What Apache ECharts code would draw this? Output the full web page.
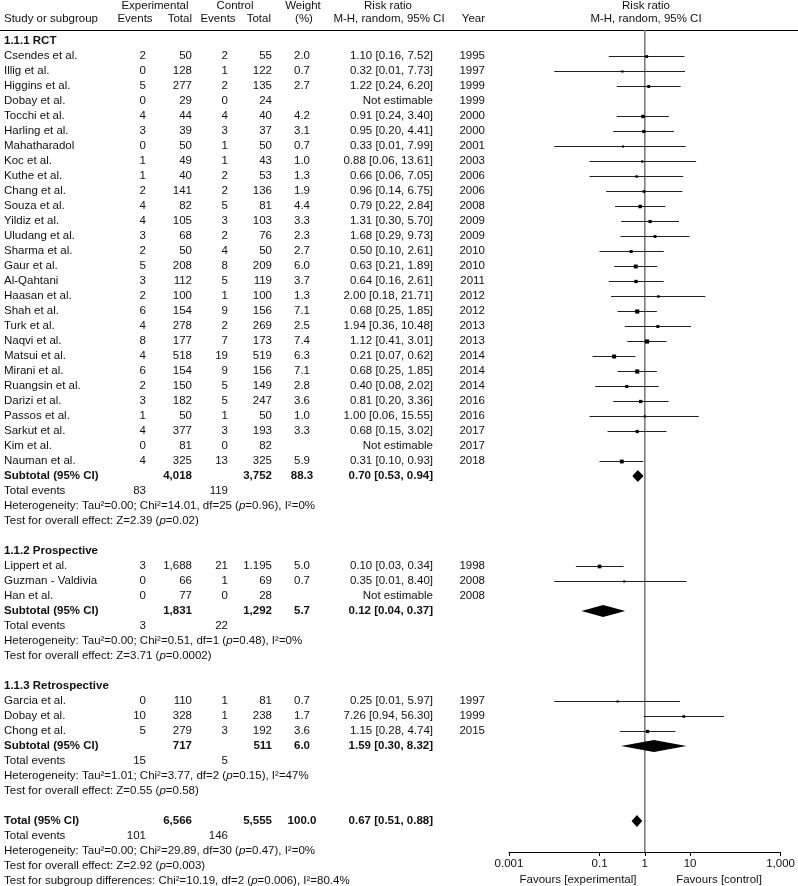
<!DOCTYPE html>
<html><head><meta charset="utf-8">
<script src="https://cdn.jsdelivr.net/npm/echarts@6/dist/echarts.min.js"></script>
<style>html,body{margin:0;padding:0;background:#fff}#c{width:798px;height:886px}</style>
</head><body><div id="c"></div>
<script>
// [study, expEvents, expTotal, ctlEvents, ctlTotal, weight, rr, low, high, year]
const rctStudies = [
  ['Csendes et al.', 2, '50', 2, '55', 2.0, 1.10, 0.16, 7.52, 1995],
  ['Illig et al.', 0, '128', 1, '122', 0.7, 0.32, 0.01, 7.73, 1997],
  ['Higgins et al.', 5, '277', 2, '135', 2.7, 1.22, 0.24, 6.20, 1999],
  ['Dobay et al.', 0, '29', 0, '24', null, null, null, null, 1999],
  ['Tocchi et al.', 4, '44', 4, '40', 4.2, 0.91, 0.24, 3.40, 2000],
  ['Harling et al.', 3, '39', 3, '37', 3.1, 0.95, 0.20, 4.41, 2000],
  ['Mahatharadol', 0, '50', 1, '50', 0.7, 0.33, 0.01, 7.99, 2001],
  ['Koc et al.', 1, '49', 1, '43', 1.0, 0.88, 0.06, 13.61, 2003],
  ['Kuthe et al.', 1, '40', 2, '53', 1.3, 0.66, 0.06, 7.05, 2006],
  ['Chang et al.', 2, '141', 2, '136', 1.9, 0.96, 0.14, 6.75, 2006],
  ['Souza et al.', 4, '82', 5, '81', 4.4, 0.79, 0.22, 2.84, 2008],
  ['Yildiz et al.', 4, '105', 3, '103', 3.3, 1.31, 0.30, 5.70, 2009],
  ['Uludang et al.', 3, '68', 2, '76', 2.3, 1.68, 0.29, 9.73, 2009],
  ['Sharma et al.', 2, '50', 4, '50', 2.7, 0.50, 0.10, 2.61, 2010],
  ['Gaur et al.', 5, '208', 8, '209', 6.0, 0.63, 0.21, 1.89, 2010],
  ['Al-Qahtani', 3, '112', 5, '119', 3.7, 0.64, 0.16, 2.61, 2011],
  ['Haasan et al.', 2, '100', 1, '100', 1.3, 2.00, 0.18, 21.71, 2012],
  ['Shah et al.', 6, '154', 9, '156', 7.1, 0.68, 0.25, 1.85, 2012],
  ['Turk et al.', 4, '278', 2, '269', 2.5, 1.94, 0.36, 10.48, 2013],
  ['Naqvi et al.', 8, '177', 7, '173', 7.4, 1.12, 0.41, 3.01, 2013],
  ['Matsui et al.', 4, '518', 19, '519', 6.3, 0.21, 0.07, 0.62, 2014],
  ['Mirani et al.', 6, '154', 9, '156', 7.1, 0.68, 0.25, 1.85, 2014],
  ['Ruangsin et al.', 2, '150', 5, '149', 2.8, 0.40, 0.08, 2.02, 2014],
  ['Darizi et al.', 3, '182', 5, '247', 3.6, 0.81, 0.20, 3.36, 2016],
  ['Passos et al.', 1, '50', 1, '50', 1.0, 1.00, 0.06, 15.55, 2016],
  ['Sarkut et al.', 4, '377', 3, '193', 3.3, 0.68, 0.15, 3.02, 2017],
  ['Kim et al.', 0, '81', 0, '82', null, null, null, null, 2017],
  ['Nauman et al.', 4, '325', 13, '325', 5.9, 0.31, 0.10, 0.93, 2018]
];
const prospStudies = [
  ['Lippert et al.', 3, '1,688', 21, '1.195', 5.0, 0.10, 0.03, 0.34, 1998],
  ['Guzman - Valdivia', 0, '66', 1, '69', 0.7, 0.35, 0.01, 8.40, 2008],
  ['Han et al.', 0, '77', 0, '28', null, null, null, null, 2008]
];
const retroStudies = [
  ['Garcia et al.', 0, '110', 1, '81', 0.7, 0.25, 0.01, 5.97, 1997],
  ['Dobay et al.', 10, '328', 1, '238', 1.7, 7.26, 0.94, 56.30, 1999],
  ['Chong et al.', 5, '279', 3, '192', 3.6, 1.15, 0.28, 4.74, 2015]
];
const groupNames = ['1.1.1 RCT', '1.1.2 Prospective', '1.1.3 Retrospective'];
const groupStudies = [rctStudies, prospStudies, retroStudies];
const subtotalTotals = [['4,018', '3,752'], ['1,831', '1,292'], ['717', '511']];
const subtotalWeights = [88.3, 5.7, 6.0];
const subtotalRR = [[0.70, 0.53, 0.94], [0.12, 0.04, 0.37], [1.59, 0.30, 8.32]];
const subtotalEvents = [[83, 119], [3, 22], [15, 5]];
// [tau2, chi2, df, p, I2]
const subtotalHet = [['0.00', '14.01', '25', '0.96', '0%'], ['0.00', '0.51', '1', '0.48', '0%'], ['1.01', '3.77', '2', '0.15', '47%']];
// [Z, p]
const subtotalTest = [['2.39', '0.02'], ['3.71', '0.0002'], ['0.55', '0.58']];
const totalTotals = ['6,566', '5,555'];
const totalWeight = 100.0;
const totalRR = [0.67, 0.51, 0.88];
const totalEvents = [101, 146];
const totalHet = ['0.00', '29.89', '30', '0.47', '0%'];
const totalTest = ['2.92', '0.003'];
const subgroupDiff = ['10.19', '2', '0.006', '80.4%'];
const tickValues = [0.001, 0.1, 1, 10, 1000];
const tickLabels = ['0.001', '0.1', '1', '10', '1,000'];

const FONT = '"Liberation Sans", Arial, sans-serif';
const FS = 11.5;
const TXT = '#111';
const COL = {name: 4, expEv: 146, expTot: 192, ctlEv: 228, ctlTot: 272, weight: 302, rr: 433, year: 485};

const fmtRR = (a) => a[0].toFixed(2) + ' [' + a[1].toFixed(2) + ', ' + a[2].toFixed(2) + ']';
const hetText = (h) => 'Heterogeneity: Tau\u00B2=' + h[0] + '; Chi\u00B2=' + h[1] + ', df=' + h[2] + ' ({i|p}=' + h[3] + '), I\u00B2=' + h[4];
const testText = (t) => 'Test for overall effect: Z=' + t[0] + ' ({i|p}=' + t[1] + ')';

const tableRows = [];   // {r, cells}
const ciData = [];      // [lo, hi, rr, row, weight]
const diamondData = []; // [lo, hi, rr, row]
const cell = (t, x, align, bold) => ({t: String(t), x, align, bold: !!bold});

let r = -1;
groupStudies.forEach((studies, g) => {
  tableRows.push({r, cells: [cell(groupNames[g], COL.name, 'left', true)]}); r++;
  studies.forEach(s => {
    tableRows.push({r, cells: [
      cell(s[0], COL.name, 'left'), cell(s[1], COL.expEv, 'right'), cell(s[2], COL.expTot, 'right'),
      cell(s[3], COL.ctlEv, 'right'), cell(s[4], COL.ctlTot, 'right'),
      cell(s[5] == null ? '' : s[5].toFixed(1), COL.weight, 'center'),
      cell(s[6] == null ? 'Not estimable' : fmtRR([s[6], s[7], s[8]]), COL.rr, 'right'),
      cell(s[9], COL.year, 'right')
    ]});
    if (s[6] != null) ciData.push([s[7], s[8], s[6], r, s[5]]);
    r++;
  });
  tableRows.push({r, cells: [
    cell('Subtotal (95% CI)', COL.name, 'left', true), cell(subtotalTotals[g][0], COL.expTot, 'right', true),
    cell(subtotalTotals[g][1], COL.ctlTot, 'right', true), cell(subtotalWeights[g].toFixed(1), COL.weight, 'center', true),
    cell(fmtRR(subtotalRR[g]), COL.rr, 'right', true)
  ]});
  diamondData.push([subtotalRR[g][1], subtotalRR[g][2], subtotalRR[g][0], r]); r++;
  tableRows.push({r, cells: [cell('Total events', COL.name, 'left'), cell(subtotalEvents[g][0], COL.expEv, 'right'), cell(subtotalEvents[g][1], COL.ctlEv, 'right')]}); r++;
  tableRows.push({r, cells: [cell(hetText(subtotalHet[g]), COL.name, 'left')]}); r++;
  tableRows.push({r, cells: [cell(testText(subtotalTest[g]), COL.name, 'left')]}); r++;
  r++;
});
tableRows.push({r, cells: [
  cell('Total (95% CI)', COL.name, 'left', true), cell(totalTotals[0], COL.expTot, 'right', true),
  cell(totalTotals[1], COL.ctlTot, 'right', true), cell(totalWeight.toFixed(1), COL.weight, 'center', true),
  cell(fmtRR(totalRR), COL.rr, 'right', true)
]});
diamondData.push([totalRR[1], totalRR[2], totalRR[0], r]); r++;
tableRows.push({r, cells: [cell('Total events', COL.name, 'left'), cell(totalEvents[0], COL.expEv, 'right'), cell(totalEvents[1], COL.ctlEv, 'right')]}); r++;
tableRows.push({r, cells: [cell(hetText(totalHet), COL.name, 'left')]}); r++;
tableRows.push({r, cells: [cell(testText(totalTest), COL.name, 'left')]}); r++;
tableRows.push({r, cells: [cell('Test for subgroup differences: Chi\u00B2=' + subgroupDiff[0] + ', df=' + subgroupDiff[1] + ' ({i|p}=' + subgroupDiff[2] + '), I\u00B2=' + subgroupDiff[3], COL.name, 'left')]}); r++;

const Y_MIN = -26 / 15, Y_MAX = 796 / 15;
const chart = echarts.init(document.getElementById('c'));
const rich = {i: {fontStyle: 'italic', fontSize: FS, fontFamily: FONT, fill: TXT}};
const hdr = (t, x, y, align) => ({type: 'text', x, y, silent: true,
  style: {text: t, align, verticalAlign: 'middle', font: FS + 'px ' + FONT, fill: TXT}});

chart.setOption({
  animation: false,
  backgroundColor: '#fff',
  grid: {left: 509, right: 15, top: 30, bottom: 34},
  xAxis: {
    type: 'log', logBase: 10, min: 0.001, max: 1000,
    axisLine: {show: true, onZero: false, lineStyle: {color: '#000', width: 1}},
    axisTick: {show: true, customValues: tickValues, length: 4, lineStyle: {color: '#000', width: 1}},
    axisLabel: {customValues: tickValues, margin: 6, fontSize: FS, fontFamily: FONT, color: TXT,
      formatter: (v) => {
        const i = tickValues.findIndex(t => Math.abs(Math.log10(t) - Math.log10(v)) < 1e-6);
        return i < 0 ? '' : tickLabels[i];
      }},
    splitLine: {show: false}
  },
  yAxis: {type: 'value', inverse: true, min: Y_MIN, max: Y_MAX, show: false},
  graphic: [
    {type: 'line', silent: true, shape: {x1: 0, y1: 30.5, x2: 798, y2: 30.5}, style: {stroke: '#000', lineWidth: 1}},
    hdr('Experimental', 155, 6, 'center'), hdr('Control', 235, 6, 'center'), hdr('Weight', 303, 6, 'center'),
    hdr('Risk ratio', 388, 6, 'center'), hdr('Risk ratio', 646, 6, 'center'),
    hdr('Study or subgroup', 4, 19, 'left'), hdr('Events', 135, 19, 'center'), hdr('Total', 192, 19, 'right'),
    hdr('Events', 218, 19, 'center'), hdr('Total', 271, 19, 'right'), hdr('(%)', 304, 19, 'center'),
    hdr('M-H, random, 95% CI', 389, 19, 'center'), hdr('Year', 485, 19, 'right'),
    hdr('M-H, random, 95% CI', 646, 19, 'center'),
    hdr('Favours [experimental]', 578, 880, 'center'), hdr('Favours [control]', 719, 880, 'center')
  ],
  series: [
    {
      type: 'line', silent: true, symbol: 'none', z: 1,
      data: [[1, Y_MIN], [1, Y_MAX]],
      lineStyle: {color: '#7d7d7d', width: 1.6}
    },
    {
      type: 'custom', silent: true, clip: false, z: 3,
      data: ciData,
      renderItem: (params, api) => {
        const row = api.value(3);
        const a = api.coord([api.value(0), row]);
        const b = api.coord([api.value(1), row]);
        const c = api.coord([api.value(2), row]);
        const s = 1.2 + Math.sqrt(api.value(4)) * 1.1;
        return {type: 'group', children: [
          {type: 'line', shape: {x1: a[0], y1: a[1] + 0.5, x2: b[0], y2: b[1] + 0.5}, style: {stroke: '#222', lineWidth: 1}},
          {type: 'rect', shape: {x: c[0] - s / 2, y: c[1] + 0.5 - s / 2, width: s, height: s}, style: {fill: '#000'}}
        ]};
      }
    },
    {
      type: 'custom', silent: true, clip: false, z: 3,
      data: diamondData,
      renderItem: (params, api) => {
        const row = api.value(3);
        const a = api.coord([api.value(0), row]);
        const b = api.coord([api.value(1), row]);
        const c = api.coord([api.value(2), row]);
        const h = 6;
        return {type: 'polygon', shape: {points: [[a[0], a[1]], [c[0], c[1] - h], [b[0], b[1]], [c[0], c[1] + h]]}, style: {fill: '#000'}};
      }
    },
    {
      type: 'custom', silent: true, clip: false, z: 4,
      data: tableRows.map(t => [1, t.r]),
      renderItem: (params, api) => {
        const row = tableRows[params.dataIndex];
        const y = api.coord([1, api.value(1)])[1];
        return {type: 'group', children: row.cells.map(c => ({
          type: 'text', x: c.x, y: y,
          style: {text: c.t, align: c.align, verticalAlign: 'middle',
            font: (c.bold ? 'bold ' : '') + FS + 'px ' + FONT, fill: TXT, rich: rich}
        }))};
      }
    }
  ]
});
</script>
</body></html>
